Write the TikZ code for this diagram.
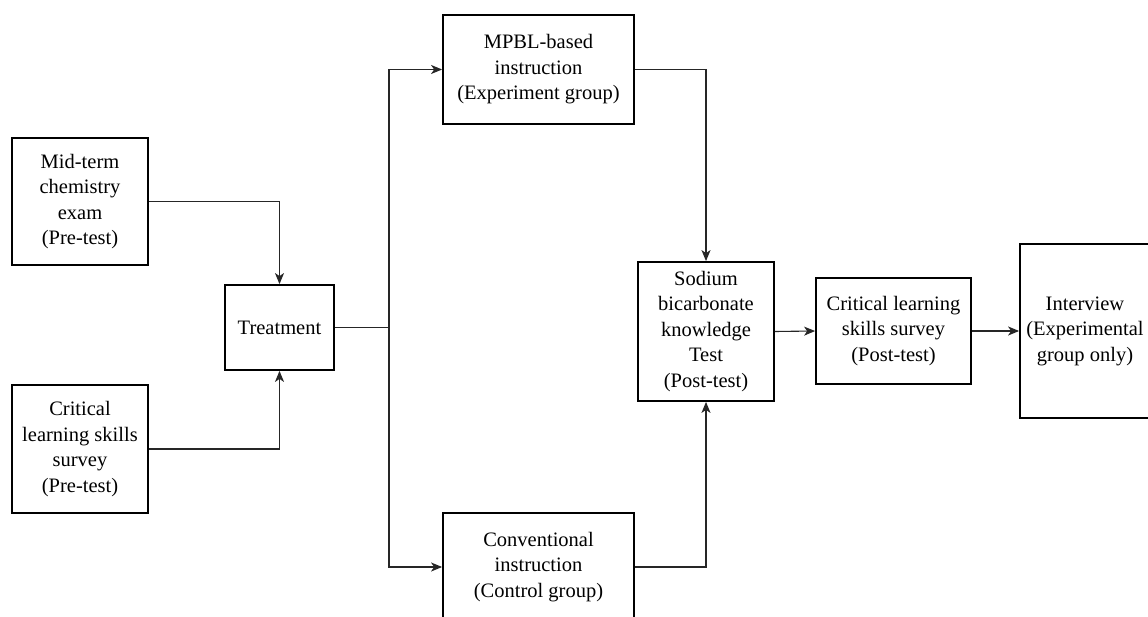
\documentclass[tikz,border=0pt]{standalone}
\usepackage{fontspec}
\setmainfont{Liberation Serif}
\usetikzlibrary{arrows.meta}
\begin{document}
\begin{tikzpicture}[x=1pt,y=-1pt,
  box/.style={draw=black, line width=1.8pt, fill=white, align=center, inner sep=0pt,
    font=\fontsize{20.5}{25.5}\selectfont},
  conn/.style={draw=black!85, line width=1.1pt},
  arr/.style={conn, -{Stealth[length=11pt,width=9pt,inset=3pt]}}]
\useasboundingbox (0,0) rectangle (1148,617);
\clip (0,0) rectangle (1148,617);
\fill[white] (0,0) rectangle (1148,617);
\node[box, minimum width=136pt, minimum height=127pt] (mid) at (80,201.5) {Mid-term\\chemistry\\exam\\(Pre-test)};
\node[box, minimum width=136pt, minimum height=128pt] (crit1) at (80,449) {Critical\\learning skills\\survey\\(Pre-test)};
\node[box, minimum width=109pt, minimum height=85pt] (treat) at (279.5,327.5) {Treatment};
\node[box, minimum width=191pt, minimum height=109pt] (mpbl) at (538.5,69.5) {MPBL-based\\instruction\\(Experiment group)};
\node[box, minimum width=191pt, minimum height=108pt] (conv) at (538.5,567) {Conventional\\instruction\\(Control group)};
\node[box, minimum width=136pt, minimum height=139pt] (sod) at (706,331.5) {Sodium\\bicarbonate\\knowledge\\Test\\(Post-test)};
\node[box, minimum width=155pt, minimum height=106pt] (crit2) at (893.5,331) {Critical learning\\skills survey\\(Post-test)};
\node[box, minimum width=130pt, minimum height=174pt] (int) at (1085,331) {Interview\\(Experimental\\group only)};
\coordinate (split) at (389,327.5);
\draw[arr] (mid.east) -| (treat.north);
\draw[arr] (crit1.east) -| (treat.south);
\draw[conn] (treat.east) -- (split);
\draw[arr] (split) |- (mpbl.west);
\draw[arr] (split) |- (conv.west);
\draw[arr] (mpbl.east) -| (sod.north);
\draw[arr] (conv.east) -| (sod.south);
\draw[arr] (sod.east) -- (crit2.west);
\draw[arr] (crit2.east) -- (int.west);
\end{tikzpicture}
\end{document}
